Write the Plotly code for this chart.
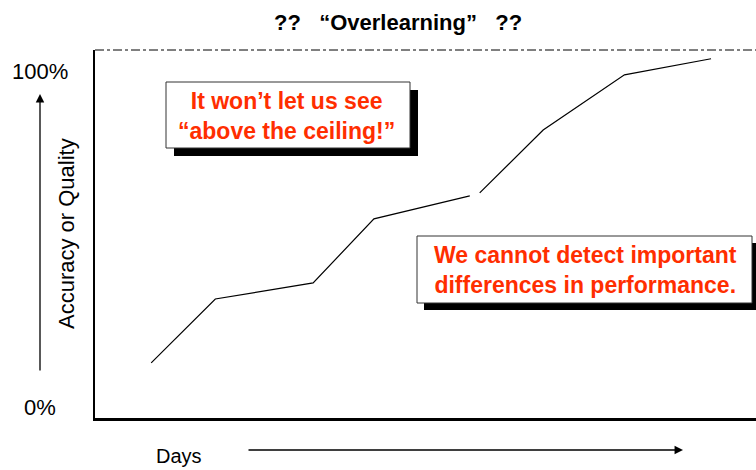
import plotly.graph_objects as go

# Data (days scale 0-100, accuracy %)
days_a = [8.5, 18.2, 33.0, 42.2, 56.7]
acc_a = [13.4, 32.4, 37.2, 56.25, 63.1]
days_b = [58.2, 67.8, 80.1, 93.2]
acc_b = [64.0, 82.7, 99.1, 103.9]
ytick_vals = [0, 100]
ytick_text = ["0%", "100%"]

W, H = 756, 470
L, R, T, B = 95, 0, 50, 52
PW, PH = W - L - R, H - T - B
FONT = "Liberation Sans, Arial, sans-serif"
RED = "#FF2E00"

def px(x):
    return (x - L) / PW

def py(y):
    return (H - B - y) / PH

fig = go.Figure()
for xs, ys in [(days_a, acc_a), (days_b, acc_b)]:
    fig.add_trace(go.Scatter(x=xs, y=ys, mode="lines",
                             line=dict(color="black", width=1.2),
                             showlegend=False, hoverinfo="skip"))

shapes = []
annotations = []

# top dash-dot ceiling line
shapes.append(dict(type="line", xref="paper", yref="paper", x0=0, x1=1, y0=1, y1=1,
                   line=dict(color="black", width=1, dash="dashdot")))

def box(x0, y0, x1, y1, off):
    shapes.append(dict(type="rect", xref="paper", yref="paper",
                       x0=px(x0 + off), x1=px(x1 + off), y0=py(y0 + off), y1=py(y1 + off),
                       fillcolor="black", line=dict(width=0)))
    shapes.append(dict(type="rect", xref="paper", yref="paper",
                       x0=px(x0), x1=px(x1), y0=py(y0), y1=py(y1),
                       fillcolor="white", line=dict(color="#333333", width=1)))

box(166, 82, 410, 148, 8)
box(417, 236, 752, 303, 7)

def note(x, y, text, size, **kw):
    d = dict(xref="paper", yref="paper", x=px(x), y=py(y), showarrow=False,
             text=text, xanchor="center", yanchor="middle",
             font=dict(family=FONT, size=size, color=kw.pop("color", "black")))
    d.update(kw)
    annotations.append(d)

note(286, 116, "<b>It won’t let us see<br>“above the ceiling!”</b>", 23, color=RED, align="center")
note(585, 270, "<b>We cannot detect important<br>differences in performance.</b>", 23, color=RED, align="center")

# title
note(398, 22, "<b>??   “Overlearning”   ??</b>", 22)

# y tick labels
for v, t in zip(ytick_vals, ytick_text):
    annotations.append(dict(xref="paper", yref="y", x=px(40), y=v, showarrow=False,
                            xanchor="center", yanchor="middle",
                            text=t, font=dict(family=FONT, size=22, color="black")))

# y axis title and arrow
note(66, 234, "Accuracy or Quality", 22, textangle=-90)
annotations.append(dict(xref="paper", yref="paper", x=px(40), y=py(94), showarrow=True,
                        ax=0, ay=278, text="", arrowhead=2, arrowsize=1.3, arrowwidth=1.3,
                        arrowcolor="black"))

# x axis title and arrow
note(179, 456, "Days", 20)
annotations.append(dict(xref="paper", yref="paper", x=px(683), y=py(450), showarrow=True,
                        ax=-436, ay=0, text="", arrowhead=2, arrowsize=1.3, arrowwidth=1.3,
                        arrowcolor="black"))

fig.update_layout(
    width=W, height=H,
    margin=dict(l=L, r=R, t=T, b=B),
    paper_bgcolor="white", plot_bgcolor="white",
    shapes=shapes, annotations=annotations,
    xaxis=dict(range=[0, 100], showgrid=False, zeroline=False, showticklabels=False,
               ticks="", showline=True, linecolor="black", linewidth=3),
    yaxis=dict(range=[-3, 106.5], showgrid=False, zeroline=False, showticklabels=False,
               ticks="", showline=True, linecolor="black", linewidth=2),
)

fig.write_html("out.html", config={"displayModeBar": False},
               post_script="document.body.style.margin='0';")
